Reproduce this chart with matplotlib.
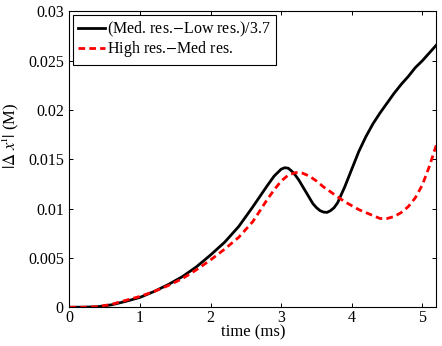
import numpy as np
import matplotlib
matplotlib.use("Agg")
import matplotlib.pyplot as plt

# (Med. res.-Low res.)/3.7
t_med_low = [0, 0.2, 0.4, 0.6, 0.8, 1.0, 1.2, 1.4, 1.6, 1.8, 2.0, 2.2, 2.4, 2.6, 2.8,
             2.9, 3.0, 3.05, 3.1, 3.15, 3.2, 3.25, 3.3, 3.35, 3.4, 3.45, 3.5, 3.55,
             3.6, 3.65, 3.7, 3.75, 3.8, 3.9, 4.0, 4.1, 4.2, 4.3, 4.4, 4.5, 4.6, 4.7,
             4.8, 4.9, 5.0, 5.1, 5.2]
dx_med_low = [0, 0.00001, 0.00005, 0.00025, 0.0006, 0.0010, 0.0016, 0.0023, 0.0031,
              0.0041, 0.0053, 0.0066, 0.0082, 0.0102, 0.0123, 0.0133, 0.0140, 0.01415,
              0.0141, 0.0138, 0.0134, 0.0129, 0.0123, 0.0117, 0.0111, 0.0105, 0.0101,
              0.0098, 0.00965, 0.00962, 0.0098, 0.0101, 0.0106, 0.0122, 0.0140, 0.0158,
              0.0173, 0.0186, 0.0197, 0.0207, 0.0217, 0.0226, 0.0234, 0.0243, 0.0250,
              0.0258, 0.0266]

# High res.-Med res.
t_high_med = [0, 0.2, 0.4, 0.6, 0.8, 1.0, 1.2, 1.4, 1.6, 1.8, 2.0, 2.2, 2.4, 2.6, 2.7,
              2.8, 2.9, 3.0, 3.1, 3.2, 3.25, 3.3, 3.4, 3.5, 3.6, 3.7, 3.8, 3.9, 4.0,
              4.1, 4.2, 4.3, 4.4, 4.5, 4.6, 4.7, 4.8, 4.9, 5.0, 5.1, 5.2]
dx_high_med = [0, 0, 0.00005, 0.0003, 0.0007, 0.0011, 0.0016, 0.0022, 0.0029, 0.0038,
               0.0048, 0.0059, 0.0071, 0.0087, 0.0098, 0.0109, 0.0119, 0.0128, 0.0134,
               0.01365, 0.01367, 0.0136, 0.0133, 0.0128, 0.0122, 0.0117, 0.0112, 0.0107,
               0.0103, 0.0099, 0.0096, 0.0093, 0.0090, 0.0090, 0.0092, 0.0096, 0.0102,
               0.0111, 0.0124, 0.0143, 0.0165]

plt.rcParams['font.family'] = ['Liberation Serif', 'DejaVu Serif']
plt.rcParams['mathtext.fontset'] = 'stix'

fig = plt.figure(figsize=(4.42, 3.46), dpi=100)
ax = fig.add_axes([0.157, 0.112, 0.8305, 0.855])

ax.plot(t_med_low, dx_med_low, color='black', lw=2, label='(Med. res.$-$Low res.)/3.7')
ax.plot(t_high_med, dx_high_med, color='red', lw=2, ls=(0, (2.4, 1.5)),
        label='High res.$-$Med res.')

ax.set_xlim(0, 5.2)
ax.set_ylim(0, 0.03)
ax.set_xticks([0, 1, 2, 3, 4, 5])
ax.set_yticks([0, 0.005, 0.01, 0.015, 0.02, 0.025, 0.03])
ax.set_yticklabels(['0', '0.005', '0.01', '0.015', '0.02', '0.025', '0.03'])
ax.tick_params(direction='in', top=True, right=True, labelsize=11.5, length=3, width=0.7)
ax.tick_params(axis='x', pad=2)
ax.tick_params(axis='y', pad=4)
for s in ax.spines.values():
    s.set_linewidth(0.8)

ax.set_xlabel('time (ms)', fontsize=12, labelpad=-1)
ax.set_ylabel(r'$|\Delta\ x^{\mathrm{i}}|$ (M)', fontsize=12)
ax.yaxis.set_label_coords(-0.128, 0.58)

leg = ax.legend(loc='upper left', fontsize=11.5, handlelength=1.65, handletextpad=0.15,
                borderaxespad=0.2, borderpad=0.35, labelspacing=0.0, fancybox=False,
                framealpha=1)
leg.get_frame().set_edgecolor('black')
leg.get_frame().set_linewidth(0.8)

fig.savefig('out.png', dpi=100)
